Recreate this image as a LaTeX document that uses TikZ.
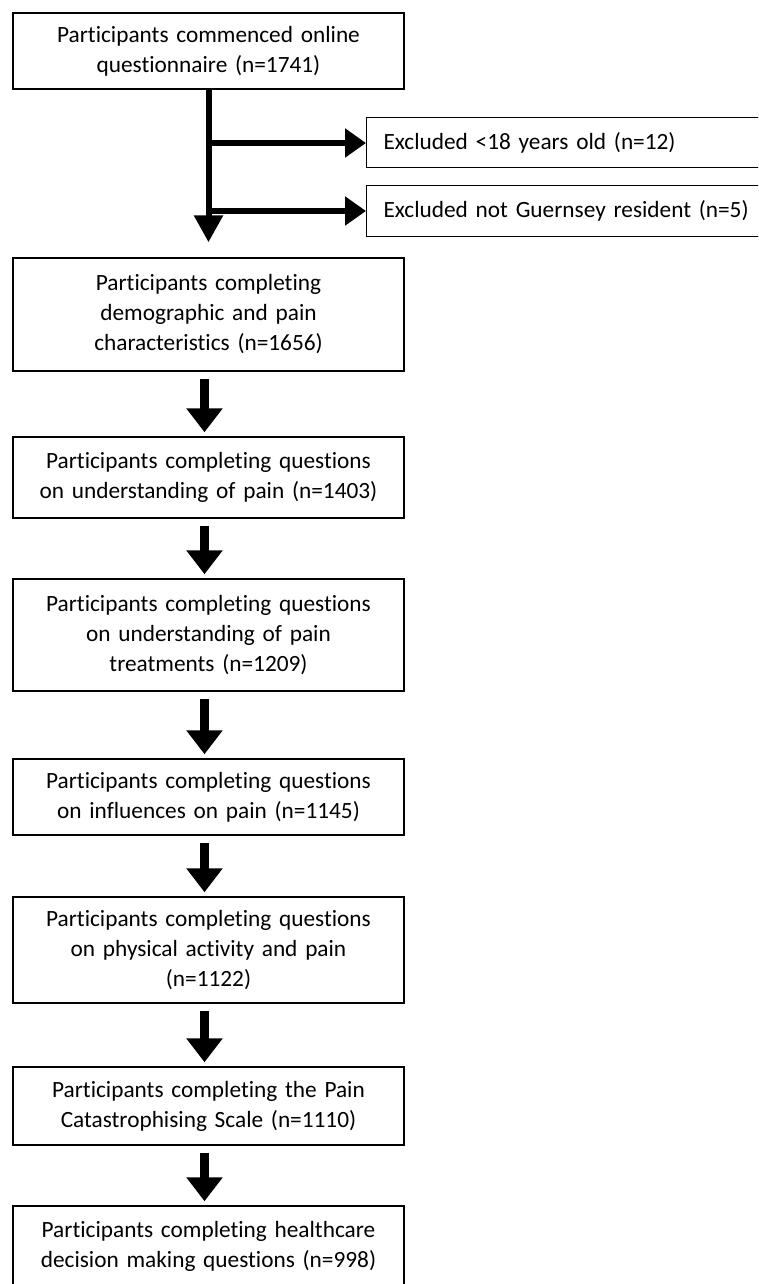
\documentclass[tikz,border=0pt]{standalone}
\usepackage{fontspec}
\setmainfont{Carlito}[Ligatures=NoCommon]
\usetikzlibrary{arrows.meta, positioning}

\begin{document}
\begin{tikzpicture}[
    x=1pt, y=-1pt,
    font=\fontsize{23.3}{30}\selectfont,
    stagebox/.style={rectangle, draw, line width=1.5pt, minimum width=391pt, text width=385pt, align=center, inner sep=0pt},
    exclbox/.style={rectangle, draw, line width=1pt, anchor=west, minimum width=420pt, minimum height=50pt, text width=386pt, align=left, inner xsep=17pt, inner ysep=0pt},
    trunk/.style={line width=6pt, -{Triangle[length=27pt, width=28pt]}, shorten >=15pt},
    branch/.style={line width=6pt, -{Triangle[length=21pt, width=28pt]}},
    flow/.style={line width=9pt, -{Triangle[length=24pt, width=35pt]}, shorten <=7pt, shorten >=4pt}
]
\useasboundingbox (0,0) rectangle (758,1284);
\clip (0,0) rectangle (758,1284);

% Stages of the questionnaire
\node (commenced) [stagebox, minimum height=76pt] at (208.5,51) {Participants commenced online\\questionnaire (n=1741)};
\node (demog) [stagebox, minimum height=113pt] at (208.5,314.5) {Participants completing\\demographic and pain\\characteristics (n=1656)};
\node (underst) [stagebox, minimum height=81pt] at (208.5,477.5) {Participants completing questions\\on understanding of pain (n=1403)};
\node (treat) [stagebox, minimum height=112pt] at (208.5,635) {Participants completing questions\\on understanding of pain\\treatments (n=1209)};
\node (influ) [stagebox, minimum height=76pt] at (208.5,797) {Participants completing questions\\on influences on pain (n=1145)};
\node (activ) [stagebox, minimum height=106pt] at (208.5,950) {Participants completing questions\\on physical activity and pain\\(n=1122)};
\node (pcs) [stagebox, minimum height=78pt] at (208.5,1106) {Participants completing the Pain\\Catastrophising Scale (n=1110)};
\node (health) [stagebox, minimum height=80pt] at (208.5,1246) {Participants completing healthcare\\decision making questions (n=998)};

% Exclusions
\node (excl18) [exclbox] at (366,143) {Excluded <18 years old (n=12)};
\node (exclres) [exclbox] at (366,211) {Excluded not Guernsey resident (n=5)};

% Arrows
\draw [trunk] (commenced.south) -- (demog.north);
\draw [branch] (commenced.south |- excl18.west) -- (excl18.west);
\draw [branch] (commenced.south |- exclres.west) -- (exclres.west);

\draw [flow] ([xshift=-4pt]demog.south) -- ([xshift=-4pt]underst.north);
\draw [flow] ([xshift=-4pt]underst.south) -- ([xshift=-4pt]treat.north);
\draw [flow] ([xshift=-4pt]treat.south) -- ([xshift=-4pt]influ.north);
\draw [flow] ([xshift=-4pt]influ.south) -- ([xshift=-4pt]activ.north);
\draw [flow] ([xshift=-4pt]activ.south) -- ([xshift=-4pt]pcs.north);
\draw [flow] ([xshift=-4pt]pcs.south) -- ([xshift=-4pt]health.north);

\end{tikzpicture}
\end{document}
